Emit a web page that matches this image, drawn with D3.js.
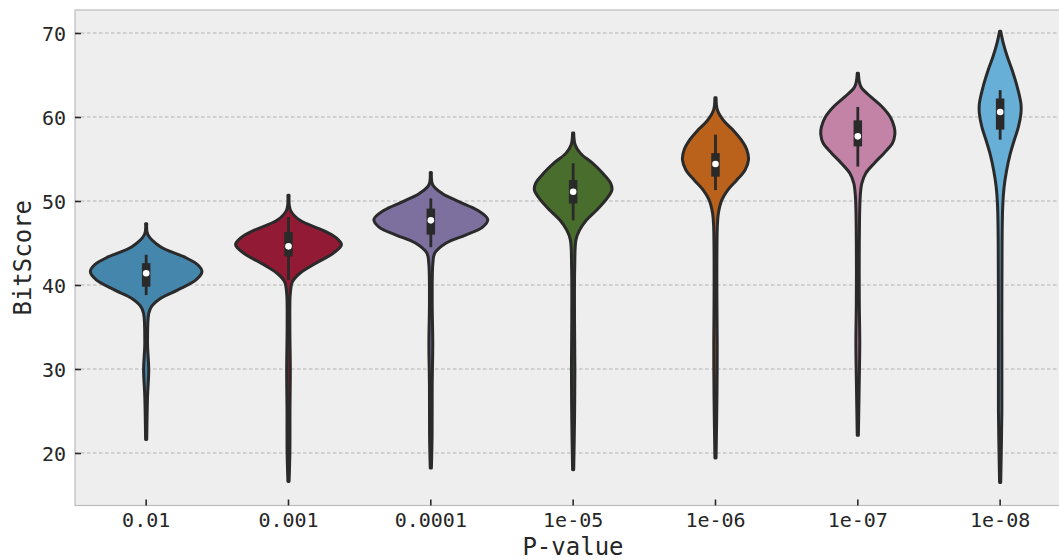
<!DOCTYPE html>
<html>
<head>
<meta charset="utf-8">
<script src="https://cdn.jsdelivr.net/npm/d3@7"></script>
<style>
  html, body { margin: 0; padding: 0; background: #ffffff; }
  svg { display: block; }
  text { font-family: "DejaVu Sans Mono", monospace; fill: #262626; }
</style>
</head>
<body>
<svg id="chart" width="1059" height="560"></svg>
<script>
// ---------------- data ----------------
const categories = ["0.01", "0.001", "0.0001", "1e-05", "1e-06", "1e-07", "1e-08"];
const baseColors = ["#348ABD", "#A60628", "#7A68A6", "#467821", "#D55E00", "#CC79A7", "#56B4E9"];
const yTicks = [20, 30, 40, 50, 60, 70];
const yLimits = [13.75, 72.74];

// density profiles: [BitScore, relative density]
const profile_0_01 = [[47.3,0.01],[46.0,0.03],[44.56,0.25],[43.37,0.66],[42.38,0.91],[41.59,0.98],[40.6,0.875],[39.4,0.55],[38.4,0.25],[37.4,0.09],[36.6,0.045],[33.1,0.024],[29.9,0.045],[26.7,0.024],[21.6,0.01]];
const profile_0_001 = [[50.7,0.01],[48.9,0.035],[47.7,0.2],[46.5,0.61],[45.6,0.84],[44.8,0.93],[43.8,0.79],[42.6,0.48],[41.4,0.2],[40.4,0.07],[39.0,0.032],[35.0,0.024],[30.0,0.032],[25.0,0.026],[20.0,0.024],[16.6,0.01]];
const profile_0_0001 = [[53.4,0.01],[51.9,0.035],[50.9,0.2],[49.9,0.5],[48.9,0.82],[47.8,1.0],[46.9,0.91],[45.95,0.61],[45.0,0.27],[43.8,0.07],[42.6,0.036],[38.0,0.024],[33.0,0.034],[28.0,0.024],[22.0,0.022],[18.2,0.01]];
const profile_1e_05 = [[58.1,0.01],[56.7,0.035],[55.7,0.125],[54.5,0.34],[53.3,0.52],[52.1,0.66],[51.3,0.68],[50.1,0.57],[48.9,0.41],[47.7,0.23],[46.5,0.11],[45.4,0.05],[42.0,0.027],[36.0,0.024],[30.0,0.03],[24.0,0.024],[18.0,0.01]];
const profile_1e_06 = [[62.3,0.01],[60.8,0.035],[59.6,0.14],[58.5,0.3],[57.3,0.45],[56.1,0.55],[54.9,0.58],[53.7,0.52],[52.5,0.375],[51.3,0.215],[50.1,0.11],[48.5,0.05],[46.9,0.032],[40.0,0.024],[33.0,0.03],[27.0,0.026],[19.4,0.01]];
const profile_1e_07 = [[65.2,0.01],[63.6,0.055],[62.4,0.23],[61.2,0.43],[60.0,0.57],[58.8,0.64],[57.9,0.65],[56.9,0.61],[55.7,0.46],[54.5,0.29],[53.3,0.14],[52.1,0.07],[50.5,0.042],[45.0,0.026],[38.0,0.026],[33.0,0.034],[28.0,0.024],[22.1,0.01]];
const profile_1e_08 = [[70.2,0.01],[68.8,0.055],[67.2,0.125],[65.6,0.21],[63.6,0.3],[61.6,0.365],[60.4,0.365],[58.8,0.32],[57.3,0.25],[55.7,0.18],[53.7,0.115],[51.7,0.07],[49.3,0.045],[45.0,0.034],[35.0,0.03],[25.0,0.03],[16.5,0.01]];

// inner box statistics
const whiskerLow  = [38.8, 40.6, 44.5, 47.7, 51.3, 54.1, 57.3];
const quartile1   = [39.8, 43.4, 46.0, 49.7, 52.9, 56.5, 58.5];
const medians     = [41.4, 44.6, 47.7, 51.1, 54.4, 57.7, 60.6];
const quartile3   = [42.6, 46.3, 49.1, 52.5, 55.7, 59.6, 62.2];
const whiskerHigh = [43.6, 48.1, 50.3, 54.5, 57.9, 61.2, 63.2];

const profiles = [profile_0_01, profile_0_001, profile_0_0001, profile_1e_05, profile_1e_06, profile_1e_07, profile_1e_08];

// ---------------- layout ----------------
const svg = d3.select("#chart");
const plotLeft = 75, plotTop = 10, plotBottom = 505.5;
const step = 142.33;
const plotRight = plotLeft + step * categories.length;

const x = d3.scaleBand().domain(categories).range([plotLeft, plotRight]).paddingInner(0).paddingOuter(0);
const y = d3.scaleLinear().domain(yLimits).range([plotBottom, plotTop]);
const halfW = d3.scaleLinear().domain([0, 1]).range([0, x.bandwidth() * 0.4]);

const desat = c => { const h = d3.hsl(c); h.s *= 0.75; return h.formatHex(); };
const lineCol = "#2a2a2a";

// axes background
svg.append("rect").attr("x", plotLeft).attr("y", plotTop).attr("width", plotRight - plotLeft).attr("height", plotBottom - plotTop)
  .attr("fill", "#eeeeee").attr("stroke", "#bcbcbc").attr("stroke-width", 1.2);

// grid
svg.append("g").selectAll("line").data(yTicks).join("line")
  .attr("x1", plotLeft).attr("x2", plotRight)
  .attr("y1", d => y(d)).attr("y2", d => y(d))
  .attr("stroke", "#b2b2b2").attr("stroke-width", 1).attr("stroke-dasharray", "3.5,2.5");

// y axis ticks (inward) + labels
const yAxis = d3.axisLeft(y).tickValues(yTicks).tickSize(-6).tickPadding(9).tickFormat(d3.format("d"));
const gy = svg.append("g").attr("transform", `translate(${plotLeft},0)`).call(yAxis);
gy.select(".domain").remove();
gy.selectAll(".tick line").attr("stroke", lineCol).attr("stroke-width", 1.6);
gy.selectAll(".tick text").attr("font-size", 20).attr("font-family", "DejaVu Sans Mono").attr("fill", "#262626").attr("dy", "0.36em");

// x axis
const xAxis = d3.axisBottom(x).tickSize(-6).tickPadding(7.5);
const gx = svg.append("g").attr("transform", `translate(0,${plotBottom})`).call(xAxis);
gx.select(".domain").remove();
gx.selectAll(".tick line").attr("stroke", lineCol).attr("stroke-width", 1.6);
gx.selectAll(".tick text").attr("font-size", 20).attr("font-family", "DejaVu Sans Mono").attr("fill", "#262626").attr("dy", "0.72em");

// violins
const area = d3.area()
  .curve(d3.curveCatmullRom.alpha(0.5))
  .y(d => y(d[0]));

categories.forEach((cat, i) => {
  const cx = x(cat) + x.bandwidth() / 2;
  const g = svg.append("g");
  g.append("path")
    .datum(profiles[i])
    .attr("d", area.x0(d => cx - halfW(d[1])).x1(d => cx + halfW(d[1])))
    .attr("fill", desat(baseColors[i]))
    .attr("stroke", lineCol).attr("stroke-width", 3).attr("stroke-linejoin", "round");
  // whisker
  g.append("line").attr("x1", cx).attr("x2", cx)
    .attr("y1", y(whiskerLow[i])).attr("y2", y(whiskerHigh[i]))
    .attr("stroke", lineCol).attr("stroke-width", 2.8);
  // box
  g.append("line").attr("x1", cx).attr("x2", cx)
    .attr("y1", y(quartile1[i])).attr("y2", y(quartile3[i]))
    .attr("stroke", lineCol).attr("stroke-width", 8.5);
  // median
  g.append("circle").attr("cx", cx).attr("cy", y(medians[i])).attr("r", 3.3)
    .attr("fill", "#ffffff");
});

// axis labels
svg.append("text").attr("x", (plotLeft + 1071) / 2).attr("y", 555)
  .attr("text-anchor", "middle").attr("font-size", 24).text("P-value");
svg.append("text").attr("transform", `translate(31,${(plotTop + plotBottom) / 2}) rotate(-90)`)
  .attr("text-anchor", "middle").attr("font-size", 24).text("BitScore");
</script>
</body>
</html>
